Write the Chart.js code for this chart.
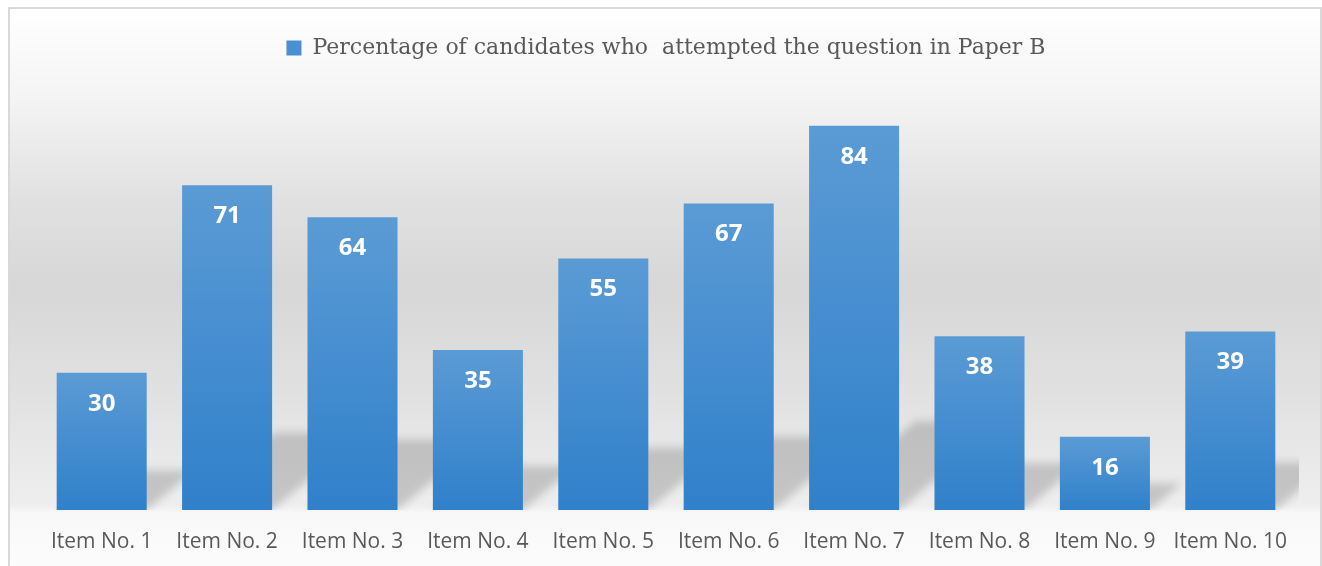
<!DOCTYPE html>
<html>
<head>
<meta charset="utf-8">
<title>Paper B attempts</title>
<script src="https://cdn.jsdelivr.net/npm/chart.js@4.4.1/dist/chart.umd.min.js"></script>
<style>
  html, body { margin: 0; padding: 0; background: #ffffff; }
  #wrap { width: 1322px; height: 566px; }
</style>
</head>
<body>
<div id="wrap"><canvas id="chart" width="1322" height="566"></canvas></div>
<script>
// Item labels along the x axis
const items = ['Item No. 1', 'Item No. 2', 'Item No. 3', 'Item No. 4', 'Item No. 5',
               'Item No. 6', 'Item No. 7', 'Item No. 8', 'Item No. 9', 'Item No. 10'];
// Percentage of candidates attempting each item
const attempted = [30, 71, 64, 35, 55, 67, 84, 38, 16, 39];
const seriesName = 'Percentage of candidates who  attempted the question in Paper B';

const BAR_TOP = '#5b9bd5';
const BAR_BOTTOM = '#3080ca';
const TEXT_GREY = '#595959';

// Light-to-dark vertical fill for each bar, from its own top down to zero
const barFill = (context) => {
    const chart = context.chart;
    if (!chart.chartArea || context.type !== 'data') return BAR_TOP;
    const y = chart.scales.y;
    const top = y.getPixelForValue(context.raw);
    const base = y.getPixelForValue(0);
    const g = chart.ctx.createLinearGradient(0, top, 0, base);
    g.addColorStop(0, BAR_TOP);
    g.addColorStop(1, BAR_BOTTOM);
    return g;
};

// Grey panel with a soft vertical gradient and a thin frame
const panelBackground = {
    id: 'panelBackground',
    beforeDraw(chart) {
        const { ctx, width, height } = chart;
        ctx.save();
        ctx.fillStyle = '#ffffff';
        ctx.fillRect(0, 0, width, height);
        const g = ctx.createLinearGradient(0, 9, 0, height);
        g.addColorStop(0, '#ffffff');
        g.addColorStop(0.16, '#f4f4f4');
        g.addColorStop(0.34, '#e1e1e1');
        g.addColorStop(0.5, '#d7d7d7');
        g.addColorStop(0.69, '#e1e1e1');
        g.addColorStop(0.78, '#e7e7e7');
        g.addColorStop(0.89, '#eeeeee');
        g.addColorStop(0.905, '#f8f8f8');
        g.addColorStop(1, '#fcfcfc');
        ctx.fillStyle = g;
        ctx.fillRect(10, 9, width - 10, height - 9);
        ctx.strokeStyle = '#d9d9d9';
        ctx.lineWidth = 2;
        ctx.beginPath();
        ctx.moveTo(9, height);
        ctx.lineTo(9, 8);
        ctx.lineTo(width - 1, 8);
        ctx.lineTo(width - 1, height);
        ctx.stroke();
        ctx.restore();
    }
};

// Perspective shadow thrown up and to the right behind every bar
const barShadows = {
    id: 'barShadows',
    beforeDatasetsDraw(chart) {
        const { ctx, chartArea } = chart;
        const meta = chart.getDatasetMeta(0);
        ctx.save();
        ctx.beginPath();
        ctx.rect(chartArea.left, chartArea.top, chartArea.right - chartArea.left + 6, chartArea.bottom - chartArea.top);
        ctx.clip();
        ctx.filter = 'blur(4px)';
        ctx.fillStyle = 'rgba(0, 0, 0, 0.17)';
        meta.data.forEach((bar) => {
            const h = bar.base - bar.y;
            const dy = h * 0.2 + 12;
            const dx = dy * 1.2;
            const left = bar.x - bar.width / 2;
            const right = bar.x + bar.width / 2;
            ctx.beginPath();
            ctx.moveTo(left, bar.base);
            ctx.lineTo(right, bar.base);
            ctx.lineTo(right + dx, bar.base - dy);
            ctx.lineTo(left + dx, bar.base - dy);
            ctx.closePath();
            ctx.fill();
        });
        ctx.restore();
    }
};

// White value labels just inside the top of each bar
const valueLabels = {
    id: 'valueLabels',
    afterDatasetsDraw(chart) {
        const { ctx } = chart;
        const meta = chart.getDatasetMeta(0);
        ctx.save();
        ctx.fillStyle = '#ffffff';
        ctx.font = 'bold 24px "Open Sans"';
        ctx.textAlign = 'center';
        ctx.textBaseline = 'middle';
        meta.data.forEach((bar, i) => {
            ctx.fillText(String(attempted[i]), bar.x, bar.y + 31);
        });
        ctx.restore();
    }
};

new Chart(document.getElementById('chart'), {
    type: 'bar',
    data: {
        labels: items,
        datasets: [{
            label: seriesName,
            data: attempted,
            backgroundColor: barFill,
            borderWidth: 0,
            categoryPercentage: 1,
            barPercentage: 0.718
        }]
    },
    options: {
        responsive: false,
        devicePixelRatio: 1,
        animation: false,
        layout: {
            padding: { top: 7, left: 39, right: 29, bottom: 15 }
        },
        scales: {
            x: {
                grid: { display: false },
                border: { display: false },
                afterFit: (scale) => { scale.height = 41; },
                ticks: {
                    color: TEXT_GREY,
                    padding: 11,
                    maxRotation: 0,
                    autoSkip: false,
                    font: { family: '"Open Sans"', size: 21 }
                }
            },
            y: {
                display: false,
                min: 0,
                max: 96.4
            }
        },
        plugins: {
            legend: {
                position: 'top',
                labels: {
                    color: TEXT_GREY,
                    boxWidth: 15,
                    boxHeight: 15,
                    padding: 30,
                    font: { family: '"DejaVu Serif"', size: 22 },
                    generateLabels: (chart) => [{
                        text: seriesName,
                        fillStyle: '#4a8fd2',
                        strokeStyle: '#4a8fd2',
                        lineWidth: 0,
                        fontColor: TEXT_GREY,
                        datasetIndex: 0
                    }]
                }
            },
            tooltip: { enabled: false }
        }
    },
    plugins: [panelBackground, barShadows, valueLabels]
});
</script>
</body>
</html>
